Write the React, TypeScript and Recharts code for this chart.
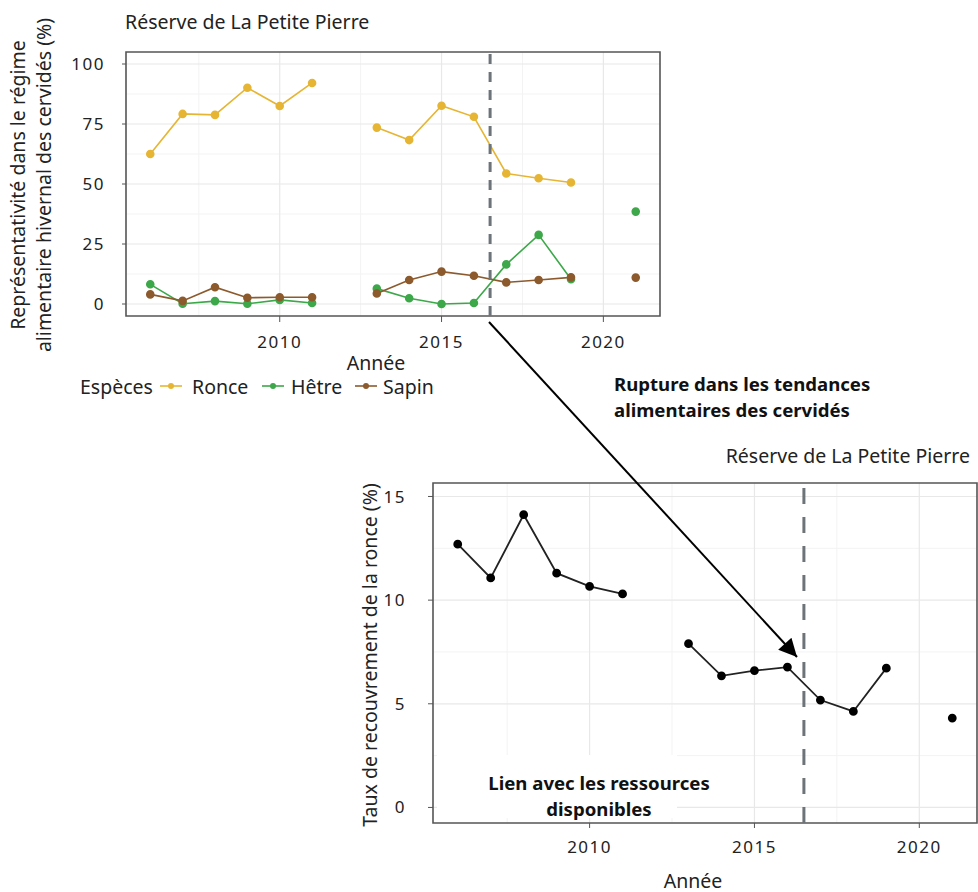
import React from 'react';
import { LineChart, Line, XAxis, YAxis, CartesianGrid, ReferenceLine, ReferenceArea } from 'recharts';

const years = [2006, 2007, 2008, 2009, 2010, 2011, 2012, 2013, 2014, 2015, 2016, 2017, 2018, 2019, 2020, 2021];
const ronce = [62.5, 79.2, 78.8, 90.1, 82.5, 92.1, null, 73.5, 68.3, 82.6, 78.0, 54.4, 52.4, 50.6, null, null];
const hetre = [8.2, 0.1, 1.2, 0.1, 1.7, 0.4, null, 6.4, 2.4, 0.0, 0.4, 16.5, 28.8, 10.3, null, 38.5];
const sapin = [4.0, 1.3, 7.0, 2.6, 2.8, 2.8, null, 4.4, 10.0, 13.5, 11.8, 9.0, 10.0, 11.1, null, 11.0];
const recouvrement = [12.7, 11.07, 14.12, 11.3, 10.66, 10.3, null, 7.9, 6.35, 6.6, 6.77, 5.18, 4.63, 6.72, null, 4.31];

const xTicks = [2010, 2015, 2020];
const xMinor = [2007.5, 2012.5, 2017.5];
const topYTicks = [0, 25, 50, 75, 100];
const topYMinor = [12.5, 37.5, 62.5, 87.5];
const botYTicks = [0, 5, 10, 15];
const botYMinor = [2.5, 7.5, 12.5];
const ruptureYear = 2016.5;

const seriesNames = ['Ronce', 'Hêtre', 'Sapin'];
const colors = { ronce: '#E6B533', hetre: '#3DA84A', sapin: '#8C5A2C' };

const topData = years.map((y, i) => ({ year: y, ronce: ronce[i], hetre: hetre[i], sapin: sapin[i] }));
const botData = years.map((y, i) => ({ year: y, taux: recouvrement[i] }));

const FONT = '"Noto Sans", sans-serif';
const FS = 19.5;
const FB = 18.6;
const tickStyle = { fontSize: 17, fill: '#222', fontFamily: FONT, letterSpacing: 1.5 } as any;

export default function App() {
  return (
    <div style={{ position: 'absolute', left: 0, top: 0, width: 978, height: 892, background: '#fff', fontFamily: FONT }}>
      <div style={{ position: 'absolute', left: 0, top: 0 }}>
        <LineChart width={680} height={400} data={topData} margin={{ top: 52, right: 20, bottom: 54, left: 76 }}>
          <CartesianGrid stroke="#f3f3f3" strokeWidth={1} horizontalValues={topYMinor} verticalValues={xMinor} />
          <CartesianGrid stroke="#e8e8e8" strokeWidth={1.2} horizontalValues={topYTicks} verticalValues={xTicks} />
          <XAxis dataKey="year" type="number" domain={[2005.25, 2021.75]} ticks={xTicks} allowDataOverflow
            axisLine={false} tickLine={{ stroke: '#555' }} tickSize={6} tickMargin={14} height={30} tick={tickStyle} />
          <YAxis type="number" domain={[-5, 105]} ticks={topYTicks} allowDataOverflow
            axisLine={false} tickLine={{ stroke: '#555' }} tickSize={4} tickMargin={17} width={50} tick={tickStyle} />
          <ReferenceArea x1={2005.25} x2={2021.75} y1={-5} y2={105} fill="none" stroke="#555" strokeWidth={1.6} ifOverflow="visible" />
          <Line dataKey="ronce" stroke={colors.ronce} strokeWidth={1.6} dot={{ r: 3.5, fill: colors.ronce, stroke: colors.ronce }} isAnimationActive={false} connectNulls={false} />
          <Line dataKey="hetre" stroke={colors.hetre} strokeWidth={1.6} dot={{ r: 3.5, fill: colors.hetre, stroke: colors.hetre }} isAnimationActive={false} connectNulls={false} />
          <Line dataKey="sapin" stroke={colors.sapin} strokeWidth={1.6} dot={{ r: 3.5, fill: colors.sapin, stroke: colors.sapin }} isAnimationActive={false} connectNulls={false} />
          <ReferenceLine x={ruptureYear} stroke="#6d7479" strokeWidth={3} strokeDasharray="10 8" ifOverflow="visible" />
        </LineChart>
      </div>

      <div style={{ position: 'absolute', left: 330, top: 430 }}>
        <LineChart width={648} height={462} data={botData} margin={{ top: 53, right: 1, bottom: 29, left: 43 }}>
          <CartesianGrid stroke="#f3f3f3" strokeWidth={1} horizontalValues={botYMinor} verticalValues={xMinor} />
          <CartesianGrid stroke="#e8e8e8" strokeWidth={1.2} horizontalValues={botYTicks} verticalValues={xTicks} />
          <XAxis dataKey="year" type="number" domain={[2005.25, 2021.75]} ticks={xTicks} allowDataOverflow
            axisLine={false} tickLine={{ stroke: '#555' }} tickSize={5} tickMargin={13} height={40} tick={tickStyle} />
          <YAxis type="number" domain={[-0.75, 15.65]} ticks={botYTicks} allowDataOverflow
            axisLine={false} tickLine={{ stroke: '#555' }} tickSize={5} tickMargin={22} width={60} tick={tickStyle} />
          <ReferenceArea x1={2005.25} x2={2021.75} y1={-0.75} y2={15.65} fill="none" stroke="#555" strokeWidth={1.6} ifOverflow="visible" />
          <Line dataKey="taux" stroke="#222" strokeWidth={1.8} dot={{ r: 3.5, fill: '#000', stroke: '#000' }} isAnimationActive={false} connectNulls={false} />
          <ReferenceLine x={ruptureYear} stroke="#6d7479" strokeWidth={3} strokeDasharray="16 13" ifOverflow="visible" />
        </LineChart>
      </div>

      <svg width={978} height={892} style={{ position: 'absolute', left: 0, top: 0, pointerEvents: 'none' }}>
        <defs>
          <marker id="arrowHead" viewBox="0 0 10 10" refX="10" refY="5" markerWidth="24" markerHeight="18" markerUnits="userSpaceOnUse" orient="auto">
            <path d="M0,0 L10,5 L0,10 z" fill="#000" />
          </marker>
        </defs>
        <g fontFamily={FONT} fill="#222">
          <text x={125} y={21} fontSize={FS} dominantBaseline="central">Réserve de La Petite Pierre</text>
          <text x={17} y={185} fontSize={FS} textAnchor="middle" dominantBaseline="central" transform="rotate(-90 17 185)">Représentativité dans le régime</text>
          <text x={43} y={185} fontSize={FS} textAnchor="middle" dominantBaseline="central" transform="rotate(-90 43 185)">alimentaire hivernal des cervidés (%)</text>
          <text x={376} y={362} fontSize={FS} textAnchor="middle" dominantBaseline="central">Année</text>

          <text x={80} y={386} fontSize={FS} dominantBaseline="central">Espèces</text>
          <line x1={160} y1={386} x2={182} y2={386} stroke={colors.ronce} strokeWidth={1.6} />
          <circle cx={171} cy={386} r={3} fill={colors.ronce} />
          <text x={192} y={386} fontSize={FS} dominantBaseline="central">{seriesNames[0]}</text>
          <line x1={262} y1={386} x2={284} y2={386} stroke={colors.hetre} strokeWidth={1.6} />
          <circle cx={273} cy={386} r={3} fill={colors.hetre} />
          <text x={291} y={386} fontSize={FS} dominantBaseline="central">{seriesNames[1]}</text>
          <line x1={355} y1={386} x2={377} y2={386} stroke={colors.sapin} strokeWidth={1.6} />
          <circle cx={366} cy={386} r={3} fill={colors.sapin} />
          <text x={383} y={386} fontSize={FS} dominantBaseline="central">{seriesNames[2]}</text>

          <text x={614} y={383} fontSize={FB} fontWeight="bold" fill="#111" dominantBaseline="central">Rupture dans les tendances</text>
          <text x={614} y={409} fontSize={FB} fontWeight="bold" fill="#111" dominantBaseline="central">alimentaires des cervidés</text>

          <text x={970} y={455} fontSize={FS} textAnchor="end" dominantBaseline="central">Réserve de La Petite Pierre</text>
          <text x={369} y={655} fontSize={FS} textAnchor="middle" dominantBaseline="central" transform="rotate(-90 369 655)">Taux de recouvrement de la ronce (%)</text>
          <text x={693} y={880} fontSize={FS} textAnchor="middle" dominantBaseline="central">Année</text>

          <rect x={437} y={755} width={240} height={63} fill="#fff" />
          <text x={599} y={782} fontSize={FB} fontWeight="bold" fill="#111" textAnchor="middle" dominantBaseline="central">Lien avec les ressources</text>
          <text x={599} y={808} fontSize={FB} fontWeight="bold" fill="#111" textAnchor="middle" dominantBaseline="central">disponibles</text>
        </g>
        <line x1={489} y1={322} x2={797} y2={657} stroke="#000" strokeWidth={2} markerEnd="url(#arrowHead)" />
      </svg>
    </div>
  );
}
